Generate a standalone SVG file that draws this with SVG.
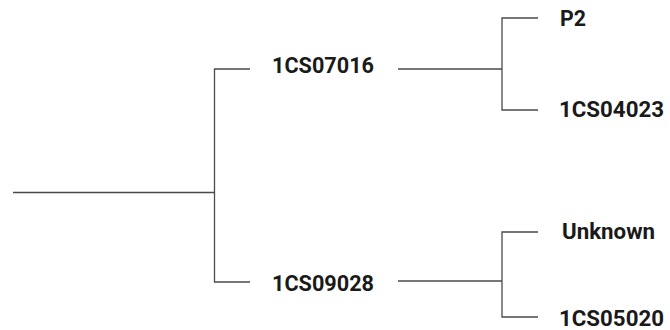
<svg xmlns="http://www.w3.org/2000/svg" width="670" height="330" viewBox="0 0 670 330">
  <style>
    .edge { fill: none; stroke: #4a4a4a; stroke-width: 1.3; }
    .label { font-family: Roboto, "Liberation Sans", sans-serif; font-weight: bold; font-size: 22px; fill: #1a1a1a; }
  </style>
  <rect width="670" height="330" fill="#ffffff"/>
  <g id="connectors">
    <path class="edge" d="M13 192.5 H214.5"/>
    <path class="edge" d="M250 69 H214.5 V282 H250"/>
    <path class="edge" d="M398 69 H502"/>
    <path class="edge" d="M538 18 H502 V110 H538"/>
    <path class="edge" d="M398 281 H502"/>
    <path class="edge" d="M538 232 H502 V317 H538"/>
  </g>
  <g id="n1CS07016"><text class="label" x="272" y="73" textLength="102" lengthAdjust="spacingAndGlyphs">1CS07016</text></g>
  <g id="n1CS09028"><text class="label" x="272" y="291" textLength="102" lengthAdjust="spacingAndGlyphs">1CS09028</text></g>
  <g id="nP2"><text class="label" x="560" y="26" textLength="26" lengthAdjust="spacingAndGlyphs">P2</text></g>
  <g id="n1CS04023"><text class="label" x="559" y="117" textLength="105" lengthAdjust="spacingAndGlyphs">1CS04023</text></g>
  <g id="nUnknown"><text class="label" x="562" y="239" textLength="93" lengthAdjust="spacingAndGlyphs">Unknown</text></g>
  <g id="n1CS05020"><text class="label" x="559" y="326" textLength="105" lengthAdjust="spacingAndGlyphs">1CS05020</text></g>
</svg>
